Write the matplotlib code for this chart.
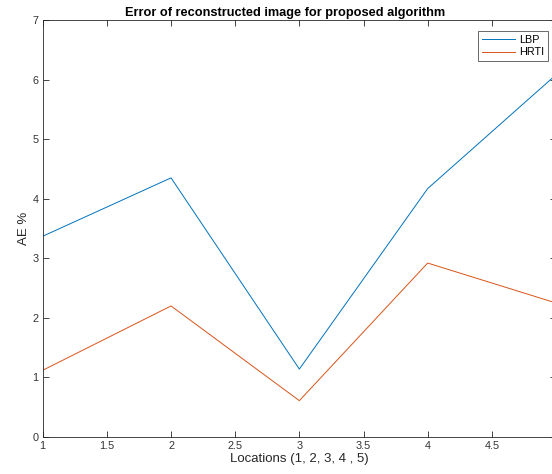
import matplotlib
matplotlib.use("Agg")
import matplotlib.pyplot as plt
import numpy as np

# --- data ---
locations = [1, 2, 3, 4, 5]
lbp = [3.37, 4.35, 1.14, 4.17, 6.08]
hrti = [1.12, 2.20, 0.61, 2.92, 2.25]
x_ticks = [1, 1.5, 2, 2.5, 3, 3.5, 4, 4.5, 5]
# label for 5 falls outside the cropped picture, so it is left blank
x_tick_labels = ["1", "1.5", "2", "2.5", "3", "3.5", "4", "4.5", ""]
y_ticks = [0, 1, 2, 3, 4, 5, 6, 7]

plt.rcParams["font.family"] = ["Liberation Sans", "DejaVu Sans"]

W, H = 552, 474
fig = plt.figure(figsize=(W / 100, H / 100), dpi=100)
# axes extend a bit past the right edge, like the cropped original
ax = fig.add_axes([42.7 / W, 37 / H, (556 - 42.7) / W, (437 - 20) / H])

ax.plot(locations, lbp, color="#0072BD", lw=0.7, label="LBP")
ax.plot(locations, hrti, color="#D95319", lw=0.7, label="HRTI")

ax.set_xlim(1, 5)
ax.set_ylim(0, 7)
ax.set_xticks(x_ticks)
ax.set_xticklabels(x_tick_labels)
ax.set_yticks(y_ticks)

axis_col = "#262626"
for s in ax.spines.values():
    s.set_color(axis_col)
    s.set_linewidth(0.6)
ax.tick_params(direction="in", length=4, width=0.6, colors=axis_col,
               labelsize=7.8, top=True, right=True, pad=3)
for lbl in ax.get_xticklabels() + ax.get_yticklabels():
    lbl.set_color("#333333")

ax.set_xlabel("Locations (1, 2, 3, 4 , 5)", fontsize=9.5, color="#262626", labelpad=1)
ax.set_ylabel("AE %", fontsize=9.5, color="#262626", labelpad=2)
ax.set_title("Error of reconstructed image for proposed algorithm",
             fontsize=9.2, fontweight="bold", color="black", pad=3,
             x=(285 - 42.7) / (556 - 42.7))

leg = ax.legend(loc="upper right", bbox_to_anchor=((548 - 42.7) / (556 - 42.7), (437 - 31) / (437 - 20)),
                fontsize=7.8, frameon=True, fancybox=False, borderaxespad=0,
                handlelength=3.0, handletextpad=0.4, borderpad=0.35, labelspacing=0.25)
leg.get_frame().set_edgecolor("#262626")
leg.get_frame().set_linewidth(0.6)

fig.savefig("out.png", dpi=100)
